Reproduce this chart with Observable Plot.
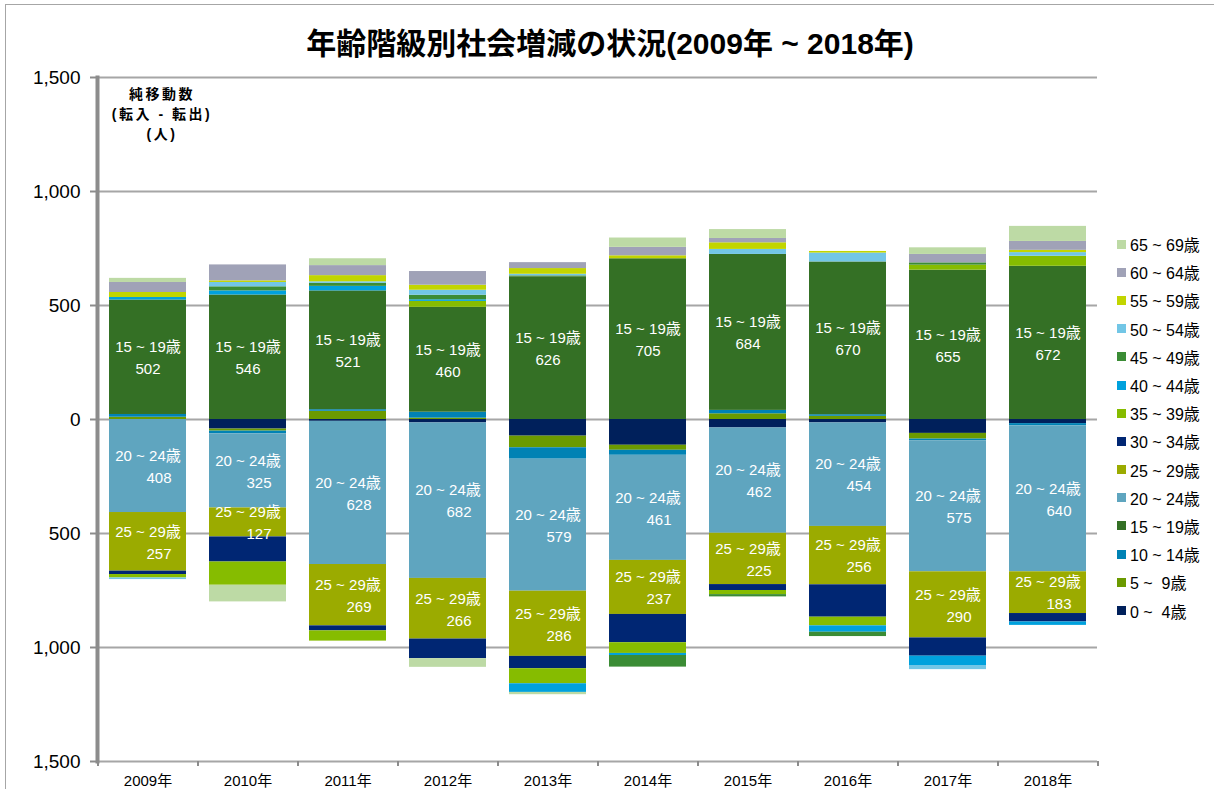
<!DOCTYPE html>
<html>
<head>
<meta charset="utf-8">
<script src="https://cdn.jsdelivr.net/npm/d3@7"></script>
<script src="https://cdn.jsdelivr.net/npm/@observablehq/plot@0.6"></script>
<style>
  body { margin: 0; background: #fff; }
  #wrap { position: relative; width: 1214px; height: 789px; overflow: hidden;
          font-family: "Liberation Sans", "Noto Sans CJK JP", sans-serif; color: #000; }
  #border { position: absolute; left: 5px; top: 4px; right: -2px; bottom: -2px;
            border-left: 1px solid #a6a6a6; border-top: 1px solid #a6a6a6; }
  #chart { position: absolute; left: 0; top: 0; }
  #title { position: absolute; left: 0; top: 19px; width: 1220px; text-align: center;
           font-weight: bold; font-size: 30px; white-space: pre;
           font-family: "Liberation Sans", "Noto Sans CJK JP", sans-serif; }
  #unit { position: absolute; left: 102px; top: 84px; width: 120px; text-align: center;
          font-weight: bold; font-size: 14px; line-height: 20px; letter-spacing: 2.5px;
          font-family: "Liberation Sans", "Noto Sans CJK JP", sans-serif; }
  #legend { position: absolute; left: 1117px; top: 230px; }
  .li { height: 28.2px; display: flex; align-items: center; font-size: 16px; white-space: pre; }
  .sw { width: 9px; height: 9px; margin-right: 4px; }
</style>
</head>
<body>
<div id="wrap">
  <div id="border"></div>
  <div id="chart"></div>
  <div id="title">年齢階級別社会増減の状況(2009年 ~ 2018年)</div>
  <div id="unit">純移動数<br>(転入 - 転出)<br>(人)</div>
  <div id="legend"></div>
</div>
<script>
const years = ["2009年","2010年","2011年","2012年","2013年","2014年","2015年","2016年","2017年","2018年"];
const ages = ["0 ~  4歳","5 ~  9歳","10 ~ 14歳","15 ~ 19歳","20 ~ 24歳","25 ~ 29歳","30 ~ 34歳",
              "35 ~ 39歳","40 ~ 44歳","45 ~ 49歳","50 ~ 54歳","55 ~ 59歳","60 ~ 64歳","65 ~ 69歳"];
const ageColors = ["#00205b","#6b9a00","#0082b4","#347025","#5fa5bf","#9bab00","#002673",
                   "#86bc00","#00a1dd","#3b8c35","#72c6e6","#c2d500","#a0a2b7","#bddaa5"];

// net migration (in - out), persons, by year 2009..2018
const age0_4   = [0, -42, -8, -15, -73, -113, -37, -15, -61, -18];
const age5_9   = [10, -9, 36, 6, -51, -22, 25, 14, -25, 0];
const age10_14 = [12, -12, 7, 26, -50, -22, 15, 7, -7, -10];
const age15_19 = [502, 546, 521, 460, 626, 705, 684, 670, 655, 672];
const age20_24 = [-408, -325, -628, -682, -579, -461, -462, -454, -575, -640];
const age25_29 = [-257, -127, -269, -266, -286, -237, -225, -256, -290, -183];
const age30_34 = [-15, -110, -22, -86, -54, -124, -26, -142, -80, -37];
const age35_39 = [-15, -102, -45, 26, -66, -47, -18, -38, 22, 44];
const age40_44 = [11, 18, 20, 7, -38, -9, 0, -28, -41, -15];
const age45_49 = [0, 18, 13, 20, 4, -51, -10, -19, 10, 0];
const age50_54 = [-7, 19, 7, 22, 7, 0, 22, 39, -18, 16];
const age55_59 = [22, 7, 27, 22, 25, 13, 29, 7, 0, 10];
const age60_64 = [44, 70, 44, 60, 26, 37, 19, 0, 37, 39];
const age65_69 = [18, -73, 30, -38, -10, 41, 39, 0, 29, 66];

const yTicks = [-1500, -1000, -500, 0, 500, 1000, 1500];
const labeledTop = ["15 ~ 19歳"];
const labeledLow = ["20 ~ 24歳", "25 ~ 29歳"];

const series = [age0_4, age5_9, age10_14, age15_19, age20_24, age25_29, age30_34,
                age35_39, age40_44, age45_49, age50_54, age55_59, age60_64, age65_69];
const rows = [];
years.forEach((yr, i) => ages.forEach((a, j) => rows.push({year: yr, age: a, value: series[j][i]})));
const data = rows.filter(d => d.value !== 0);

const labeled = labeledTop.concat(labeledLow);
const st = (extra) => Plot.stackY({x: "year", y: "value", z: "age", ...extra});

const chart = Plot.plot({
  width: 1214,
  height: 789,
  marginLeft: 97,
  marginRight: 117,
  marginTop: 77,
  marginBottom: 28,
  style: {fontFamily: '"Liberation Sans", "Noto Sans CJK JP", sans-serif', color: "#000", background: "transparent"},
  x: {domain: years, paddingInner: 0.23, paddingOuter: 0.115, label: null},
  y: {domain: [-1500, 1500], label: null},
  color: {domain: ages, range: ageColors},
  marks: [
    Plot.gridY(yTicks, {stroke: "#a6a6a6", strokeOpacity: 1, strokeWidth: 2}),
    Plot.barY(data, {x: "year", y: "value", fill: "age", z: "age"}),
    Plot.text(data, st({text: d => labeled.includes(d.age) ? d.age : null,
      fill: "white", fontSize: 15, dy: -10})),
    Plot.text(data, st({text: d => labeledTop.includes(d.age) ? String(Math.abs(d.value)) : null,
      fill: "white", fontSize: 15, dy: 12})),
    Plot.text(data, st({text: d => labeledLow.includes(d.age) ? String(Math.abs(d.value)) : null,
      fill: "white", fontSize: 15, dy: 12, dx: 11})),
    Plot.frame({anchor: "left", stroke: "#8c8c8c", strokeWidth: 4}),
    Plot.axisY(yTicks, {tickFormat: d => d3.format(",")(Math.abs(d)), tickSize: 7, tickPadding: 10,
      fontSize: 19, stroke: "#8c8c8c", strokeWidth: 2, label: null}),
    Plot.axisX({tickSize: 0, tickPadding: 14, fontSize: 15, label: null}),
    Plot.axisX({tickSize: 5, tickFormat: () => "", dx: -50, stroke: "#8c8c8c", strokeWidth: 2, label: null}),
    Plot.axisX([years[years.length - 1]], {tickSize: 5, tickFormat: () => "", dx: 50, stroke: "#8c8c8c", strokeWidth: 2, label: null})
  ]
});
document.getElementById("chart").appendChild(chart);

const legend = document.getElementById("legend");
ages.slice().reverse().forEach(a => {
  const row = document.createElement("div");
  row.className = "li";
  const sw = document.createElement("span");
  sw.className = "sw";
  sw.style.background = ageColors[ages.indexOf(a)];
  const t = document.createElement("span");
  t.textContent = a;
  row.appendChild(sw);
  row.appendChild(t);
  legend.appendChild(row);
});
</script>
</body>
</html>
